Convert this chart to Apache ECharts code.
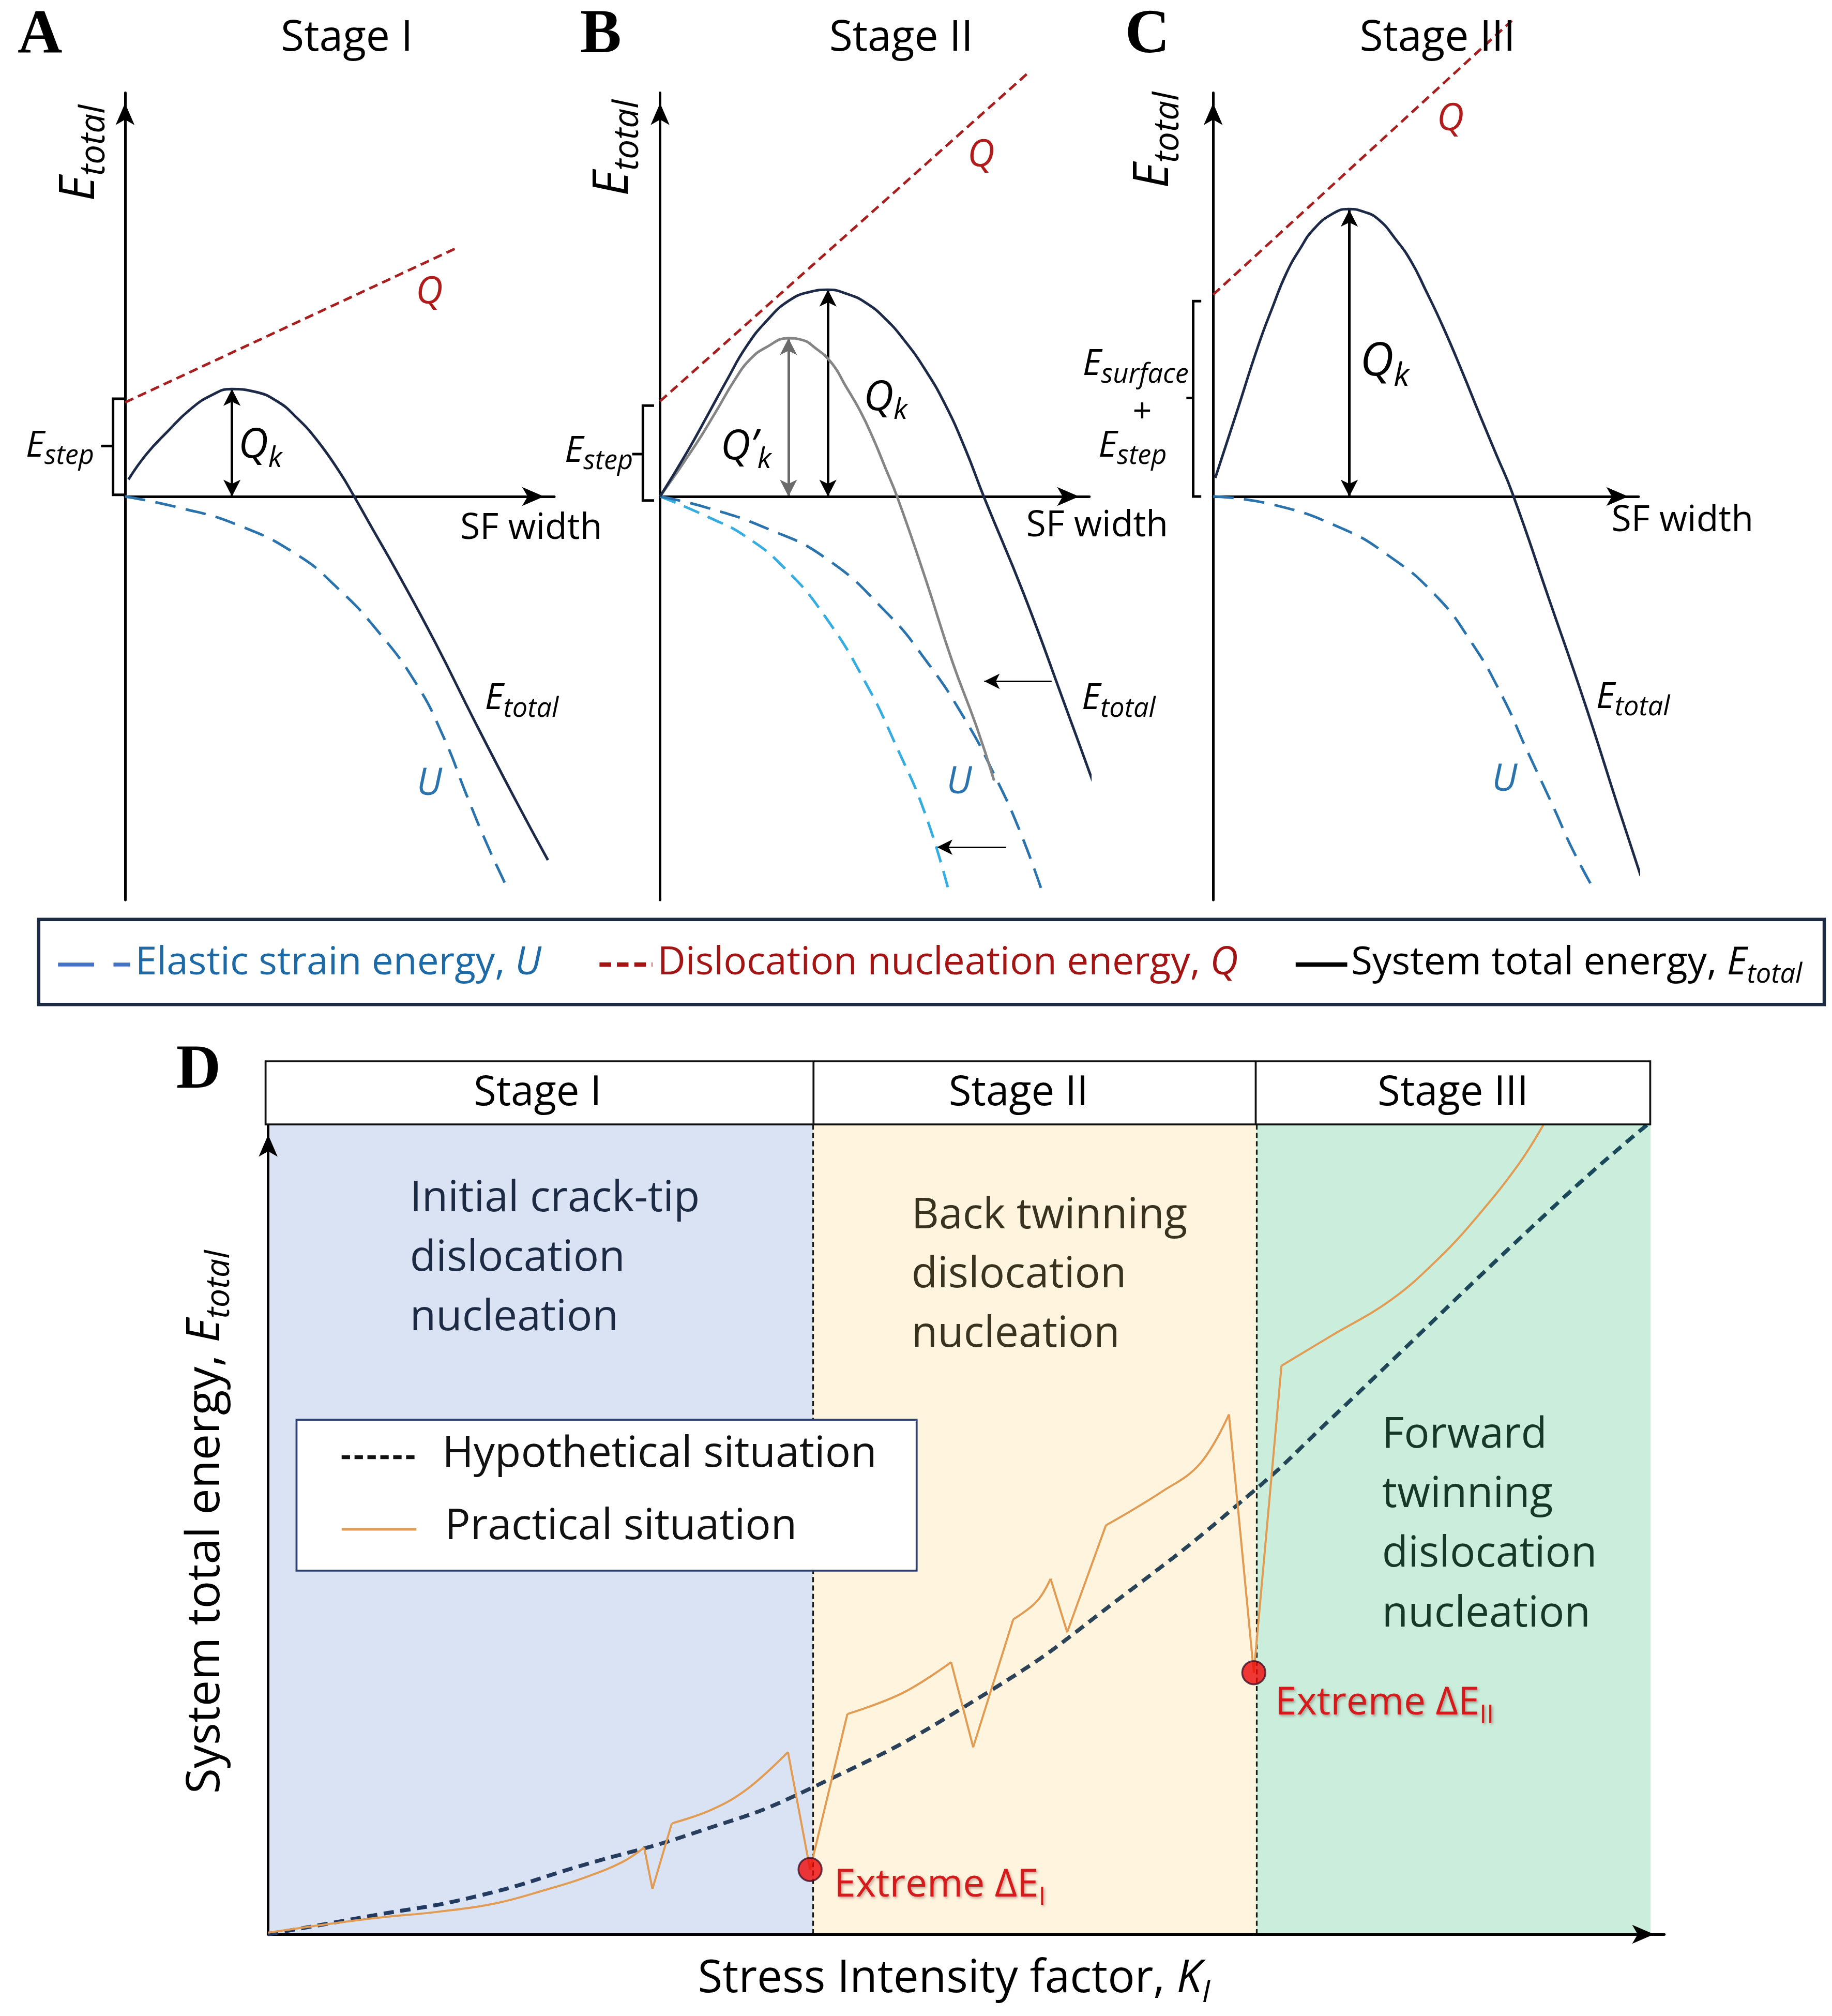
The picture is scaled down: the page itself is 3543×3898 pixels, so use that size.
<!DOCTYPE html>
<html>
<head>
<meta charset="utf-8">
<style>html,body{margin:0;padding:0;background:#fff}#c{width:3543px;height:3898px}</style>
<script src="https://cdn.jsdelivr.net/npm/echarts/dist/echarts.min.js"></script>
</head>
<body>
<div id="c"></div>
<script>
// ---------- DATA (schematic values) ----------
// Panels A-C: x = SF width (0..10), y = energy (-10..10)
const aQ = [[0, 2.33], [7.75, 6.17]];
const aEtotal = [[0.08,0.42],[0.5,1.05],[1.0,1.62],[1.5,2.14],[2.0,2.5],[2.48,2.66],[3.0,2.6],[3.54,2.36],[4.0,1.95],[4.46,1.41],[5.0,0.6],[5.32,0.03],[5.8,-0.87],[6.31,-1.82],[7.23,-3.63],[8.14,-5.56],[9.07,-7.47],[9.85,-9.01]];
const aU = [[0,0],[1.23,-0.27],[2.61,-0.70],[4.0,-1.44],[4.95,-2.27],[5.85,-3.29],[6.76,-4.60],[7.41,-5.94],[7.96,-7.41],[8.42,-8.59],[8.93,-9.76]];
const aQk = [[2.49, 0], [2.49, 2.66]];
const aBracket = [[-0.01,2.42],[-0.28,2.42],[-0.28,0.04],[-0.01,0.04]];
const aBracketTick = [[-0.28,1.25],[-0.56,1.25]];

const bQ = [[0, 2.36], [8.62, 10.54]];
const bEtotal = [[0,0],[0.64,1.12],[1.1,2.0],[1.56,2.89],[2.0,3.7],[2.49,4.36],[3.0,4.85],[3.5,5.07],[3.91,5.12],[4.35,5.02],[4.79,4.80],[5.25,4.40],[5.71,3.84],[6.17,3.15],[6.63,2.30],[7.1,1.2],[7.55,-0.03],[8.47,-2.41],[9.39,-5.05],[10.31,-7.75],[10.72,-9.03]];
const bEprime = [[0,0],[0.82,1.27],[1.3,2.1],[1.74,2.89],[2.1,3.4],[2.48,3.70],[2.99,3.92],[3.3,3.88],[3.59,3.70],[4.0,3.3],[4.32,2.74],[4.67,2.1],[4.97,1.42],[5.25,0.7],[5.53,-0.03],[6.17,-2.0],[6.81,-4.1],[7.37,-5.7],[7.78,-7.04]];
const bU = [[0,0],[1.10,-0.28],[2.48,-0.79],[3.86,-1.53],[5.25,-2.85],[6.17,-4.03],[7.09,-5.50],[7.82,-6.97],[8.38,-8.29],[8.89,-9.76]];
const bUprime = [[0,0],[1.10,-0.50],[2.02,-1.01],[2.94,-1.82],[3.86,-3.0],[4.79,-4.62],[5.52,-6.23],[6.17,-7.85],[6.72,-9.76]];
const bQk = [[3.91, 0], [3.91, 5.12]];
const bQkPrime = [[2.99, 0], [2.99, 3.92]];
const bShiftE = [[9.12,-4.58],[7.55,-4.58]];
const bShiftU = [[8.06,-8.69],[6.45,-8.69]];
const bBracket = [[-0.14,2.25],[-0.40,2.25],[-0.40,-0.1],[-0.14,-0.1]];
const bBracketTick = [[-0.40,1.05],[-0.65,1.05]];

const cQ = [[0, 5.0], [7.02, 11.79]];
const cEtotal = [[0.05,0.46],[0.53,2.01],[1.07,3.77],[1.4,4.7],[1.72,5.53],[2.05,6.15],[2.37,6.63],[2.8,7.0],[3.18,7.12],[3.55,7.05],[3.89,6.86],[4.27,6.4],[4.65,5.83],[5.0,5.1],[5.4,4.21],[5.85,3.1],[6.27,2.01],[6.65,1.05],[7.03,0.09],[7.9,-2.56],[8.76,-5.20],[9.52,-7.70],[10.05,-9.40]];
const cU = [[0,0],[1.40,-0.20],[3.02,-0.79],[4.10,-1.45],[5.19,-2.41],[6.05,-3.58],[6.81,-4.98],[7.35,-6.23],[8.0,-7.70],[8.44,-8.73],[8.96,-9.76]];
const cQk = [[3.2, 0], [3.2, 7.1]];
const cBracket = [[-0.28,4.84],[-0.47,4.84],[-0.47,0.0],[-0.28,0.0]];
const cBracketTick = [[-0.47,2.44],[-0.63,2.44]];

// Panel D: x = stress intensity factor K_I (0..10), y = system total energy (0..10)
const stageNames = ['Stage I', 'Stage II', 'Stage III'];
const stageBounds = [0, 3.94, 7.15, 10];
const hypothetical = [[0,0],[0.72,0.22],[1.51,0.47],[2.29,0.86],[3.08,1.25],[3.91,1.79],[5.18,2.96],[6.2,4.2],[7.12,5.46],[7.66,6.32],[9.36,9.08],[10,10.03]];
const practicalCurves = [
  [[0,0.02],[0.72,0.19],[1.24,0.28],[1.64,0.38],[2.03,0.56],[2.29,0.70],[2.56,0.89],[2.72,1.07]],
  [[2.92,1.37],[3.21,1.54],[3.47,1.80],[3.76,2.25]],
  [[4.19,2.72],[4.59,2.98],[4.94,3.36]],
  [[5.39,3.89],[5.56,4.11],[5.66,4.39]],
  [[6.06,5.05],[6.46,5.46],[6.74,5.81],[6.95,6.42]],
  [[7.33,7.02],[7.69,7.39],[8.12,7.83],[8.47,8.35],[8.76,8.89],[9.05,9.52],[9.23,10.01]]
];
const practicalJumps = [
  [[2.72,1.07],[2.78,0.56],[2.92,1.37]],
  [[3.76,2.25],[3.92,0.80],[4.19,2.72]],
  [[4.94,3.36],[5.10,2.31],[5.39,3.89]],
  [[5.66,4.39],[5.78,3.73],[6.06,5.05]],
  [[6.95,6.42],[7.13,3.23],[7.33,7.02]]
];
const extremePoints = [[3.92,0.80],[7.13,3.23]];

// ---------- LAYOUT HELPERS ----------
const S = 3543 / 1421;
const P = v => v * S;
const FONT = "'Open Sans', sans-serif";
const NAVY = '#1c2a48', UBLUE = '#2a73ad', ULIGHT = '#35ade0', QRED = '#a81f1f', ORANGE = '#e19b52';

function axis(gi, min, max) {
  return {
    type: 'value', gridIndex: gi, min: min, max: max, z: 5,
    axisLabel: {show: false}, axisTick: {show: false}, splitLine: {show: false},
    axisLine: {show: true, onZero: true, symbol: ['none', 'arrow'],
      symbolSize: [P(11), P(17)], symbolOffset: [0, -P(8)],
      lineStyle: {color: '#000', width: P(2)}}
  };
}
function line(gi, data, color, width, type, smooth, extra) {
  return Object.assign({
    type: 'line', xAxisIndex: gi, yAxisIndex: gi, data: data, symbol: 'none', showSymbol: false,
    clip: false, smooth: smooth, silent: true, z: 6,
    lineStyle: {color: color, width: P(width), type: type}
  }, extra || {});
}
function arrows(pairs, color, heads, w, size) {
  return {
    silent: true, symbol: heads, symbolSize: size || [P(10), P(13)], label: {show: false},
    lineStyle: {color: color, width: P(w || 2), type: 'solid'},
    emphasis: {disabled: true},
    data: pairs.map(p => [{coord: p[0]}, {coord: p[1]}])
  };
}
function txt(x, y, text, o) {
  o = o || {};
  const el = {
    type: 'text', x: P(x), y: P(y), z: 60, silent: true, rotation: o.rot || 0,
    style: {
      text: text, fontSize: P(o.size || 28), fontFamily: o.family || FONT,
      fontStyle: o.italic ? 'italic' : 'normal', fontWeight: o.bold ? 'bold' : 'normal',
      fill: o.color || '#000', align: o.align || 'left', verticalAlign: 'middle'
    }
  };
  if (o.rich) el.style.rich = o.rich;
  return el;
}
function subRich(ms, ss, color, italicMain, italicSub) {
  return {
    m: {fontSize: P(ms), lineHeight: P(ms * 1.3), fontFamily: FONT, fontStyle: italicMain ? 'italic' : 'normal', fill: color},
    s: {fontSize: P(ss), lineHeight: P(ss), verticalAlign: 'bottom', fontFamily: FONT, fontStyle: italicSub ? 'italic' : 'normal', fill: color}
  };
}
function sub(x, y, main, s, ms, ss, o) {
  o = o || {};
  return txt(x, y, '{m|' + main + '}{s|' + s + '}', Object.assign({rich: subRich(ms, ss, o.color || '#000', o.im !== false, o.is !== false)}, o));
}
function gline(x1, y1, x2, y2, color, w, dash) {
  return {type: 'line', z: 55, silent: true, shape: {x1: P(x1), y1: P(y1), x2: P(x2), y2: P(y2)},
    style: {stroke: color, lineWidth: P(w), lineDash: dash ? dash.map(P) : null}};
}
function grect(x, y, w, h, stroke, lw, fill, z) {
  return {type: 'rect', z: z || 50, silent: true, shape: {x: P(x), y: P(y), width: P(w), height: P(h)},
    style: {stroke: stroke, lineWidth: P(lw), fill: fill}};
}

// ---------- SERIES ----------
const series = [];
// Panel A
series.push(line(0, aQ, QRED, 2, [P(7), P(4)], false));
series.push(line(0, aU, UBLUE, 2, [P(16), P(8)], true));
series.push(line(0, aEtotal, NAVY, 2, 'solid', 0.5, {markLine: arrows([aQk], '#000', ['arrow', 'arrow'])}));
// Panel B
series.push(line(1, bQ, QRED, 2, [P(7), P(4)], false));
series.push(line(1, bUprime, ULIGHT, 2, [P(13), P(7)], true));
series.push(line(1, bU, UBLUE, 2, [P(16), P(8)], true, {markLine: arrows([bShiftE, bShiftU], '#000', ['none', 'arrow'], 1.3, [P(9), P(12)])}));
series.push(line(1, bEprime, '#858585', 2, 'solid', 0.5, {markLine: arrows([bQkPrime], '#6b6b6b', ['arrow', 'arrow'])}));
series.push(line(1, bEtotal, NAVY, 2, 'solid', 0.5, {markLine: arrows([bQk], '#000', ['arrow', 'arrow'])}));
// Panel C
series.push(line(2, cQ, QRED, 2, [P(7), P(4)], false));
series.push(line(2, cU, UBLUE, 2, [P(16), P(8)], true));
series.push(line(2, cEtotal, NAVY, 2, 'solid', 0.5, {markLine: arrows([cQk], '#000', ['arrow', 'arrow'])}));
// Panel D background + stage dividers
const stageColors = ['#dae3f3', '#fff4de', '#caeedb'];
series.push({
  type: 'line', xAxisIndex: 3, yAxisIndex: 3, data: [], z: 1, silent: true,
  markArea: {silent: true, data: stageNames.map((n, i) => [{xAxis: stageBounds[i], itemStyle: {color: stageColors[i]}}, {xAxis: stageBounds[i + 1]}])},
  markLine: {silent: true, symbol: ['none', 'none'], label: {show: false},
    lineStyle: {color: '#1a1a1a', width: P(1.3), type: [P(4), P(2.5)]},
    data: stageBounds.slice(1, 3).map(v => ({xAxis: v}))}
});
series.push(line(3, hypothetical, new echarts.graphic.LinearGradient(0, 0, 1, 0, [
  {offset: 0, color: '#1f3864'}, {offset: 0.55, color: '#2d4257'}, {offset: 1, color: '#17495a'}]), 3, [P(8), P(5)], 0.5, {z: 7}));
practicalCurves.forEach(seg => series.push(line(3, seg, ORANGE, 1.6, 'solid', 0.4, {z: 8})));
practicalJumps.forEach(seg => series.push(line(3, seg, ORANGE, 1.6, 'solid', false, {z: 8})));
series.push({type: 'scatter', xAxisIndex: 3, yAxisIndex: 3, data: extremePoints, symbolSize: P(18), z: 9, silent: true,
  itemStyle: {color: '#ee0808', borderColor: '#3d1328', borderWidth: P(1.4)}});

// ---------- GRAPHIC (text, boxes) ----------
const g = [];
[['A', 31, 28], ['B', 466, 28], ['C', 890, 28], ['D', 154, 831]].forEach(l =>
  g.push(txt(l[1], l[2], l[0], {size: 48, bold: true, family: "'Liberation Serif', serif", align: 'center'})));
g.push(txt(269, 30, 'Stage I', {size: 33, align: 'center'}));
g.push(txt(699, 30, 'Stage II', {size: 33, align: 'center'}));
g.push(txt(1115, 30, 'Stage III', {size: 33, align: 'center'}));
g.push(txt(412, 410, 'SF width', {size: 28, align: 'center'}));
g.push(txt(851, 408, 'SF width', {size: 28, align: 'center'}));
g.push(txt(1305, 404, 'SF width', {size: 28, align: 'center'}));
// rotated E_total axis names (x, y given as screen position of text start)
g.push(sub(62, 156, 'E', 'total', 38, 27, {rot: Math.PI / 2}));
g.push(sub(476, 152, 'E', 'total', 38, 27, {rot: Math.PI / 2}));
g.push(sub(895, 146, 'E', 'total', 38, 27, {rot: Math.PI / 2}));
// E_step labels
g.push(sub(20, 346, 'E', 'step', 28, 21));
g.push(sub(438, 350, 'E', 'step', 28, 21));
g.push(sub(852, 346, 'E', 'step', 28, 21));
g.push(sub(922, 283, 'E', 'surface', 28, 21, {align: 'right'}));
g.push(txt(886, 320, '+', {size: 26, align: 'center'}));
// Q_k labels
g.push(sub(185, 346, 'Q', 'k', 32, 22));
g.push(sub(670, 309, 'Q', 'k', 32, 22));
g.push(sub(559, 347, 'Q\u2019', 'k', 32, 22));
g.push(sub(1055, 281, 'Q', 'k', 36, 25));
// E_total curve labels
g.push(sub(376, 542, 'E', 'total', 28, 21));
g.push(sub(839, 542, 'E', 'total', 28, 21));
g.push(sub(1238, 541, 'E', 'total', 28, 21));
[[333, 227], [761, 121], [1125, 93]].forEach(p => g.push(txt(p[0], p[1], 'Q', {size: 29, italic: true, color: '#b01c1c', align: 'center'})));
[[333, 608], [744, 607], [1167, 605]].forEach(p => g.push(txt(p[0], p[1], 'U', {size: 29, italic: true, color: UBLUE, align: 'center'})));

// top legend
g.push(grect(30, 713, 1385, 66, '#1e2b45', 2.6, '#fff', 40));
g.push(gline(45, 748, 73, 748, '#4472c4', 3));
g.push(gline(88, 748, 101, 748, '#4472c4', 3));
g.push(txt(105, 747, '{a|Elastic strain energy, }{b|U}', {size: 30, rich: {
  a: {fontSize: P(30), fontFamily: FONT, fill: '#1e6aa6'}, b: {fontSize: P(30), fontFamily: FONT, fontStyle: 'italic', fill: '#1e6aa6'}}}));
g.push(gline(465, 748, 506, 748, '#a31515', 3.5, [9, 4.5]));
g.push(txt(510, 747, '{a|Dislocation nucleation energy, }{b|Q}', {size: 30, rich: {
  a: {fontSize: P(30), fontFamily: FONT, fill: '#a31515'}, b: {fontSize: P(30), fontFamily: FONT, fontStyle: 'italic', fill: '#a31515'}}}));
g.push(gline(1005, 748, 1045, 748, '#000', 3.5));
g.push(txt(1048, 747, '{a|System total energy, }{m|E}{s|total}', {size: 30, rich: Object.assign({
  a: {fontSize: P(30), lineHeight: P(39), fontFamily: FONT, fill: '#000'}}, subRich(30, 21, '#000', true, true))}));

// panel D header
g.push(grect(206, 823, 1074, 49, '#111', 1.5, '#fff', 45));
g.push(gline(631, 823, 631, 872, '#111', 1.5));
g.push(gline(974, 823, 974, 872, '#111', 1.5));
g.push(txt(417, 848, stageNames[0], {size: 32, align: 'center'}));
g.push(txt(790, 848, stageNames[1], {size: 32, align: 'center'}));
g.push(txt(1127, 848, stageNames[2], {size: 32, align: 'center'}));
['Initial crack-tip', 'dislocation', 'nucleation'].forEach((s, i) => g.push(txt(318, 930 + i * 46, s, {size: 33, color: '#1d2a44'})));
['Back twinning', 'dislocation', 'nucleation'].forEach((s, i) => g.push(txt(707, 943 + i * 46, s, {size: 33, color: '#38321f'})));
['Forward', 'twinning', 'dislocation', 'nucleation'].forEach((s, i) => g.push(txt(1072, 1113 + i * 46.3, s, {size: 33, color: '#153828'})));
// panel D legend
g.push(grect(230, 1101, 481, 117, '#2e4170', 1.5, '#fff', 50));
g.push(gline(265, 1130, 323, 1130, '#111', 3, [6.5, 3.5]));
g.push(txt(343, 1128, 'Hypothetical situation', {size: 33, color: '#111'}));
g.push(gline(265, 1186, 323, 1186, ORANGE, 2));
g.push(txt(345, 1184, 'Practical situation', {size: 33, color: '#111'}));
const shadow = {textShadowColor: 'rgba(90,0,0,0.35)', textShadowBlur: P(2), textShadowOffsetX: P(1), textShadowOffsetY: P(1.2)};
const redRich = {
  m: Object.assign({fontSize: P(30), lineHeight: P(39), fontFamily: FONT, fill: '#d41a1a'}, shadow),
  s: Object.assign({fontSize: P(20), lineHeight: P(20), verticalAlign: 'bottom', fontFamily: FONT, fill: '#d41a1a'}, shadow)
};
g.push(txt(647, 1462, '{m|Extreme \u0394E}{s|I}', {size: 30, rich: redRich}));
g.push(txt(989, 1321, '{m|Extreme \u0394E}{s|II}', {size: 30, rich: redRich}));
g.push(txt(740, 1535, '{a|Stress Intensity factor, }{m|K}{s|I}', {size: 35, align: 'center', rich: Object.assign({
  a: {fontSize: P(35), lineHeight: P(45), fontFamily: FONT, fill: '#000'}}, subRich(35, 24, '#000', true, true))}));
g.push(txt(160, 1391, '{a|System total energy, }{m|E}{s|total}', {size: 36, rot: Math.PI / 2, rich: Object.assign({
  a: {fontSize: P(36), lineHeight: P(47), fontFamily: FONT, fill: '#000'}}, subRich(36, 26, '#000', true, true))}));

// ---------- OPTION ----------
const option = {
  animation: false,
  backgroundColor: '#ffffff',
  grid: [
    {left: P(97), top: P(72), width: P(333), height: P(626)},
    {left: P(512), top: P(72), width: P(333), height: P(626)},
    {left: P(941), top: P(72), width: P(330), height: P(626)},
    {left: P(208), top: P(872), width: P(1083), height: P(628)}
  ],
  xAxis: [axis(0, 0, 10), axis(1, 0, 10), axis(2, 0, 10), axis(3, 0, 10.1)],
  yAxis: [axis(0, -10, 10), axis(1, -10, 10), axis(2, -10, 10), axis(3, 0, 10)],
  series: series
};
const chart = echarts.init(document.getElementById('c'), null, {renderer: 'canvas', width: 3543, height: 3898});
chart.setOption(option);
// E_step brackets: placed through each panel's own scales
[[0, aBracket], [0, aBracketTick], [1, bBracket], [1, bBracketTick], [2, cBracket], [2, cBracketTick]].forEach(b => {
  g.push({type: 'polyline', z: 55, silent: true,
    shape: {points: b[1].map(p => chart.convertToPixel({gridIndex: b[0]}, p))},
    style: {stroke: '#000', lineWidth: P(2), fill: null}});
});
chart.setOption({graphic: {elements: g}});
</script>
</body>
</html>
